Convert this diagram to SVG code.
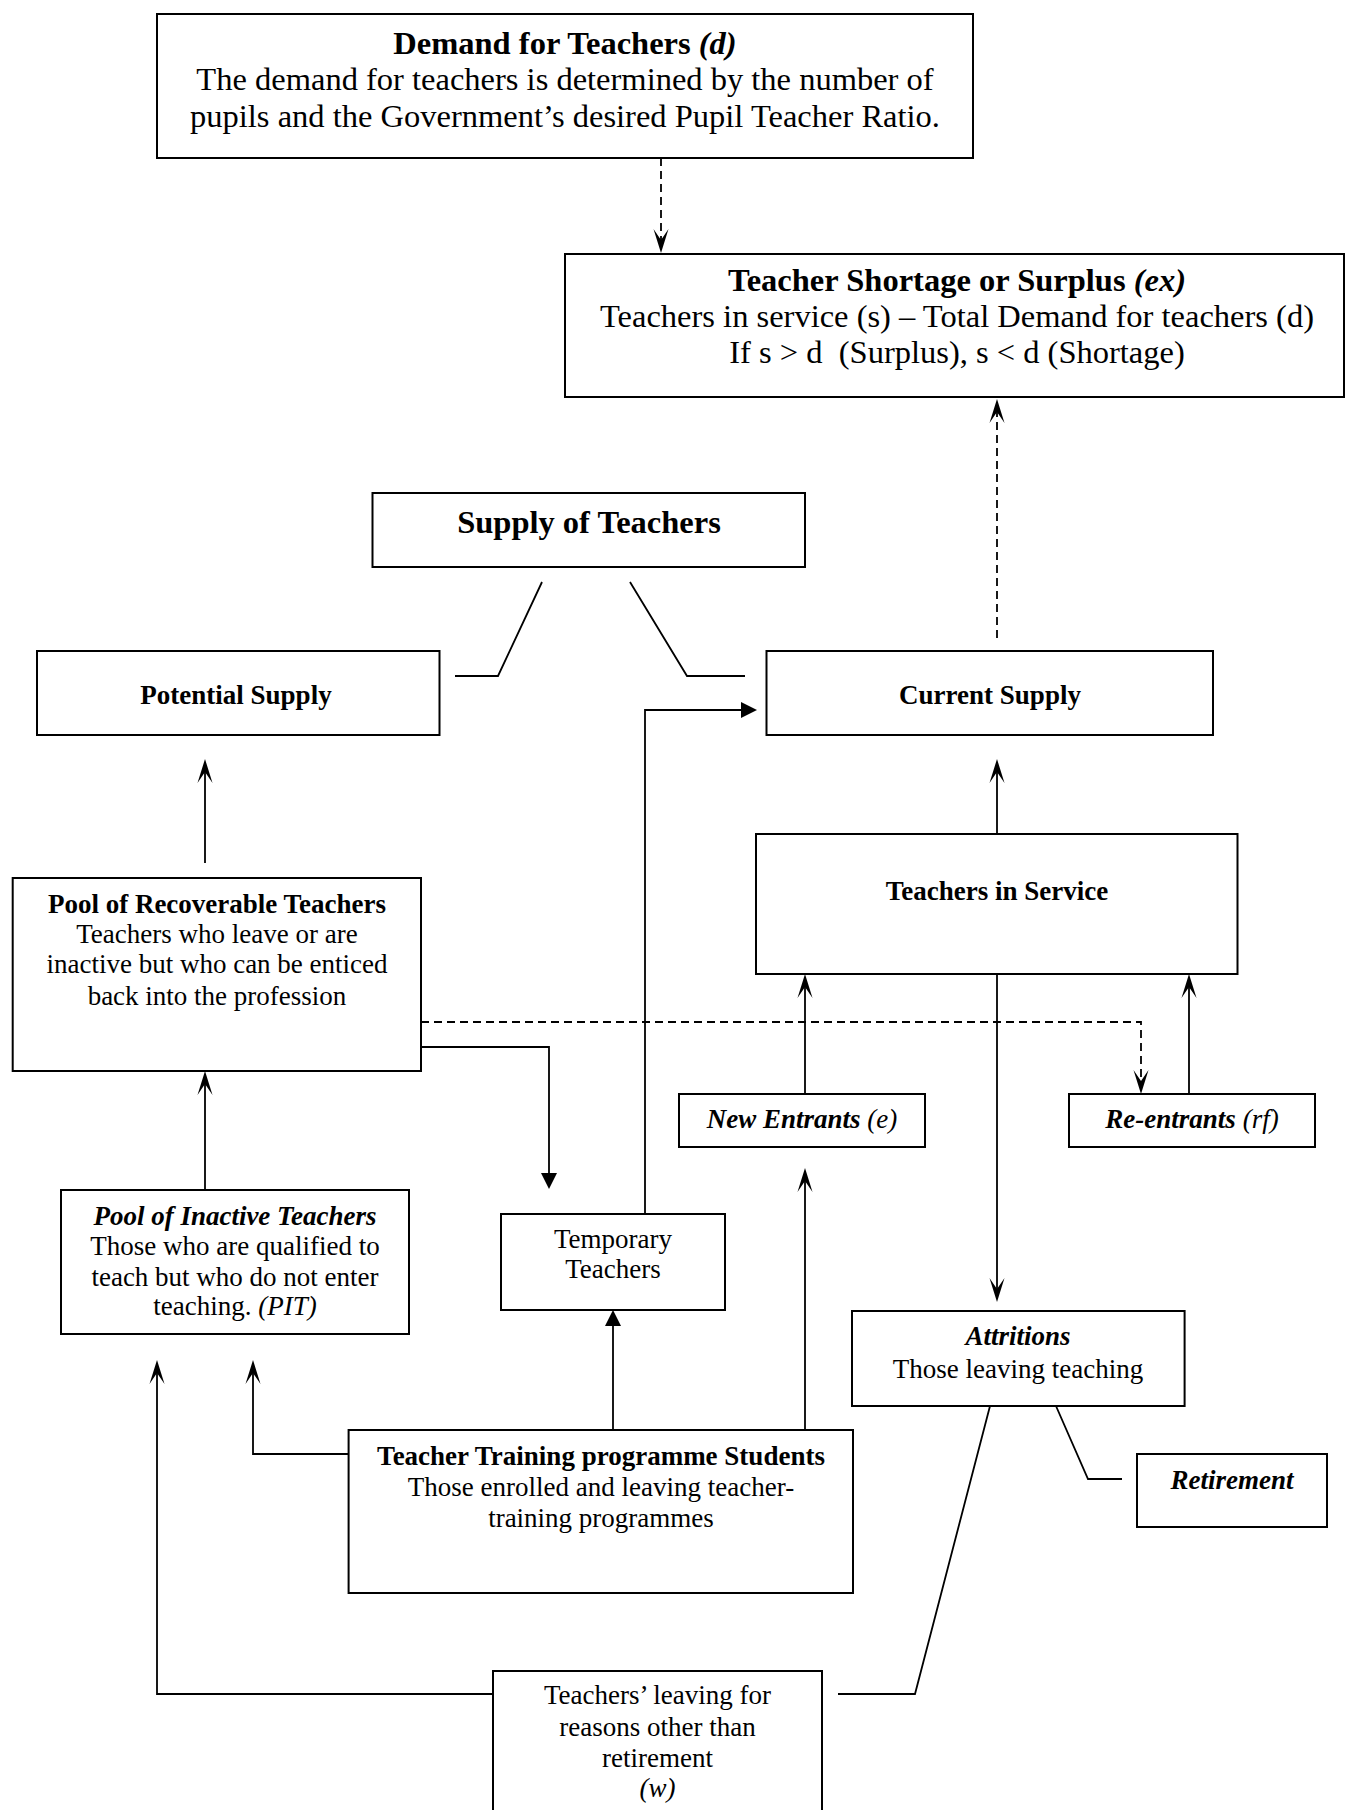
<svg xmlns="http://www.w3.org/2000/svg" width="1346" height="1810" viewBox="0 0 1346 1810">
<style>
.box{fill:#fff;stroke:#000;stroke-width:2}
.c{fill:none;stroke:#000;stroke-width:1.8}
.d{stroke-dasharray:8 5}
text{font-family:"Liberation Serif","Times New Roman",serif;fill:#000;text-anchor:middle}
.L{font-size:32.5px}
.s{font-size:27px}
.b{font-weight:bold}
.i{font-style:italic}
</style>
<defs>
<marker id="barb" markerUnits="userSpaceOnUse" viewBox="-12 -9 27 18" markerWidth="27" markerHeight="18" refX="0" refY="0" orient="auto">
<path d="M13,0 L-11,-7.5 L0,0 L-11,7.5 Z" fill="#000"/>
</marker>
<marker id="tri" markerUnits="userSpaceOnUse" viewBox="-4 -9 20 18" markerWidth="20" markerHeight="18" refX="0" refY="0" orient="auto">
<path d="M14,0 L-2,-8 L-2,8 Z" fill="#000"/>
</marker>
</defs>
<rect width="1346" height="1810" fill="#fff"/>

<g id="connectors">
<path class="c d" d="M661,158 V240" marker-end="url(#barb)"/>
<path class="c d" d="M997,638 V412" marker-end="url(#barb)"/>
<path class="c" d="M997,834 V772" marker-end="url(#barb)"/>
<path class="c" d="M205,863 V772" marker-end="url(#barb)"/>
<path class="c" d="M645,1214 V710 H743" marker-end="url(#tri)"/>
<path class="c" d="M421,1047 H549 V1175" marker-end="url(#tri)"/>
<path class="c d" d="M421,1022 H1141 V1081" marker-end="url(#barb)"/>
<path class="c" d="M805,1094 V987" marker-end="url(#barb)"/>
<path class="c" d="M1189,1094 V987" marker-end="url(#barb)"/>
<path class="c" d="M997,974 V1289" marker-end="url(#barb)"/>
<path class="c" d="M205,1190 V1084" marker-end="url(#barb)"/>
<path class="c" d="M805,1430 V1181" marker-end="url(#barb)"/>
<path class="c" d="M613,1430 V1324" marker-end="url(#tri)"/>
<path class="c" d="M349,1454 H253 V1373" marker-end="url(#barb)"/>
<path class="c" d="M493,1694 H157 V1373" marker-end="url(#barb)"/>
<path class="c" d="M990,1406 L915,1694 H838"/>
<path class="c" d="M1056,1406 L1088,1479 H1122"/>
<path class="c" d="M542,582 L498,676 H455"/>
<path class="c" d="M630,582 L687,676 H745"/>
</g>

<g id="demand">
<rect class="box" x="157" y="14" width="816" height="144"/>
<text class="L b" x="565" y="54">Demand for Teachers <tspan class="i">(d)</tspan></text>
<text class="L" x="565" y="90">The demand for teachers is determined by the number of</text>
<text class="L" x="565" y="127">pupils and the Government’s desired Pupil Teacher Ratio.</text>
</g>

<g id="shortage">
<rect class="box" x="565" y="254" width="779" height="143"/>
<text class="L b" x="957" y="291">Teacher Shortage or Surplus <tspan class="i">(ex)</tspan></text>
<text class="L" x="957" y="327">Teachers in service (s) – Total Demand for teachers (d)</text>
<text class="L" x="957" y="363">If s &gt; d&#160; (Surplus), s &lt; d (Shortage)</text>
</g>

<g id="supply">
<rect class="box" x="372.5" y="493" width="432.5" height="74"/>
<text class="L b" x="589" y="533">Supply of Teachers</text>
</g>

<g id="potential">
<rect class="box" x="37" y="651" width="402.5" height="84"/>
<text class="s b" x="236" y="704">Potential Supply</text>
</g>

<g id="current">
<rect class="box" x="766.5" y="651" width="446.5" height="84"/>
<text class="s b" x="990" y="704">Current Supply</text>
</g>

<g id="recoverable">
<rect class="box" x="12.7" y="878" width="408.3" height="193"/>
<text class="s b" x="217" y="913">Pool of Recoverable Teachers</text>
<text class="s" x="217" y="943">Teachers who leave or are</text>
<text class="s" x="217" y="973">inactive but who can be enticed</text>
<text class="s" x="217" y="1005">back into the profession</text>
</g>

<g id="inservice">
<rect class="box" x="756" y="834" width="481.5" height="140"/>
<text class="s b" x="997" y="900">Teachers in Service</text>
</g>

<g id="newentrants">
<rect class="box" x="679" y="1094" width="246" height="53"/>
<text class="s i" x="802" y="1128"><tspan class="b">New Entrants</tspan> (e)</text>
</g>

<g id="reentrants">
<rect class="box" x="1069" y="1094" width="246" height="53"/>
<text class="s i" x="1192" y="1128"><tspan class="b">Re-entrants</tspan> (rf)</text>
</g>

<g id="inactive">
<rect class="box" x="61" y="1190" width="348" height="144"/>
<text class="s b i" x="235" y="1225">Pool of Inactive Teachers</text>
<text class="s" x="235" y="1255">Those who are qualified to</text>
<text class="s" x="235" y="1286">teach but who do not enter</text>
<text class="s" x="235" y="1315">teaching. <tspan class="i">(PIT)</tspan></text>
</g>

<g id="temporary">
<rect class="box" x="501" y="1214" width="224" height="96"/>
<text class="s" x="613" y="1248">Temporary</text>
<text class="s" x="613" y="1278">Teachers</text>
</g>

<g id="attritions">
<rect class="box" x="852" y="1311" width="332.6" height="95"/>
<text class="s b i" x="1018" y="1345">Attritions</text>
<text class="s" x="1018" y="1378">Those leaving teaching</text>
</g>

<g id="retirement">
<rect class="box" x="1137" y="1454" width="190" height="73"/>
<text class="s b i" x="1232" y="1489">Retirement</text>
</g>

<g id="training">
<rect class="box" x="348.6" y="1430" width="504.4" height="163"/>
<text class="s b" x="601" y="1465">Teacher Training programme Students</text>
<text class="s" x="601" y="1496">Those enrolled and leaving teacher-</text>
<text class="s" x="601" y="1527">training programmes</text>
</g>

<g id="leaving">
<rect class="box" x="493" y="1671" width="329" height="160"/>
<text class="s" x="657.5" y="1704">Teachers’ leaving for</text>
<text class="s" x="657.5" y="1736">reasons other than</text>
<text class="s" x="657.5" y="1767">retirement</text>
<text class="s i" x="657.5" y="1797">(w)</text>
</g>
</svg>
